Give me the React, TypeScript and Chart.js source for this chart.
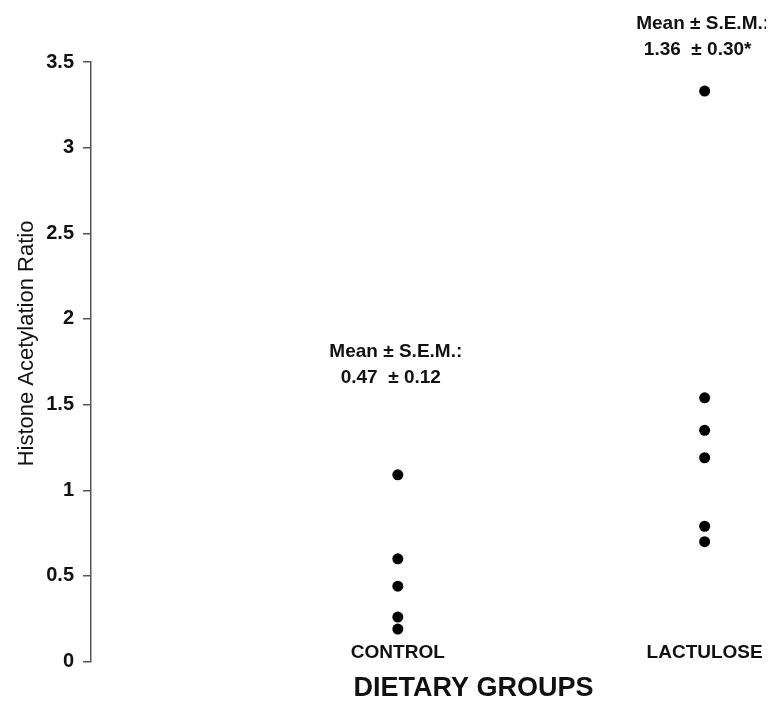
import React, { useEffect, useRef } from "react";
import { Chart, registerables } from "chart.js";

Chart.register(...registerables);

const categories = ["CONTROL", "LACTULOSE"];
const controlValues = [1.09, 0.6, 0.44, 0.26, 0.19];
const lactuloseValues = [3.33, 1.54, 1.35, 1.19, 0.79, 0.7];
const annotationHeaders = ["Mean ± S.E.M.:", "Mean ± S.E.M.:"];
const annotationValues = ["0.47  ± 0.12", "1.36  ± 0.30*"];
const annotationY = [1.81, 3.725];
const yTicks = [0, 0.5, 1, 1.5, 2, 2.5, 3, 3.5];

const FONT = '"Liberation Sans", Arial, sans-serif';

const annotationPlugin = {
  id: "meanAnnotations",
  afterDatasetsDraw(chart: any) {
    const { ctx } = chart;
    const xs = chart.scales.x;
    const ys = chart.scales.y;
    ctx.save();
    ctx.fillStyle = "#111";
    ctx.font = `bold 19px ${FONT}`;
    ctx.textAlign = "center";
    ctx.textBaseline = "middle";
    categories.forEach((_, i) => {
      const px = xs.getPixelForValue(i + 1);
      const py = ys.getPixelForValue(annotationY[i]);
      ctx.fillText(annotationHeaders[i], px - 2, py);
      ctx.fillText(annotationValues[i], px - 7, py + 26);
    });
    ctx.restore();
  },
};

export default function App() {
  const ref = useRef<HTMLCanvasElement | null>(null);
  useEffect(() => {
    document.documentElement.style.overflow = "hidden";
    const canvas = ref.current;
    if (!canvas) return;
    const chart = new Chart(canvas, {
      type: "scatter",
      data: {
        datasets: [
          {
            label: categories[0],
            data: controlValues.map((v) => ({ x: 1, y: v })),
            backgroundColor: "#000",
            borderWidth: 0,
            pointRadius: 5.5,
          },
          {
            label: categories[1],
            data: lactuloseValues.map((v) => ({ x: 2, y: v })),
            backgroundColor: "#000",
            borderWidth: 0,
            pointRadius: 5.5,
          },
        ],
      },
      options: {
        responsive: false,
        animation: false,
        layout: { padding: { top: 54, right: 8, bottom: 0, left: 0 } },
        plugins: {
          legend: { display: false },
          tooltip: { enabled: false },
        },
        scales: {
          x: {
            type: "linear",
            min: 0,
            max: 2.2,
            afterBuildTicks: (scale: any) => {
              scale.ticks = categories.map((_, i) => ({ value: i + 1 }));
            },
            ticks: {
              autoSkip: false,
              maxRotation: 0,
              mirror: true,
              padding: -3,
              color: "#111",
              font: { family: FONT, size: 19, weight: "bold" },
              callback: (v: any) => categories[Number(v) - 1] ?? "",
            },
            grid: { display: false, drawTicks: false },
            border: { display: false },
            title: {
              display: true,
              text: "            DIETARY GROUPS",
              color: "#111",
              padding: { top: 17, bottom: 0 },
              font: { family: FONT, size: 27, weight: "bold" },
            },
          },
          y: {
            min: 0,
            max: 3.5,
            afterBuildTicks: (scale: any) => {
              scale.ticks = yTicks.map((v) => ({ value: v }));
            },
            afterFit: (scale: any) => {
              scale.width = 83;
            },
            ticks: {
              padding: 9,
              color: "#111",
              font: { family: FONT, size: 20, weight: "bold" },
              callback: (v: any) => `${v}`,
            },
            grid: {
              display: true,
              drawOnChartArea: false,
              drawTicks: true,
              tickLength: 8,
              color: "#555",
              lineWidth: 1.5,
            },
            border: { display: true, color: "#555", width: 1.5 },
            title: {
              display: true,
              text: "      Histone Acetylation Ratio",
              color: "#111",
              padding: { top: 6, bottom: 0 },
              font: { family: FONT, size: 22, weight: "normal" },
            },
          },
        },
      },
      plugins: [annotationPlugin],
    });
    return () => chart.destroy();
  }, []);
  return (
    <canvas
      ref={ref}
      width={766}
      height={697}
      style={{ display: "block", width: 766, height: 697 }}
    />
  );
}
